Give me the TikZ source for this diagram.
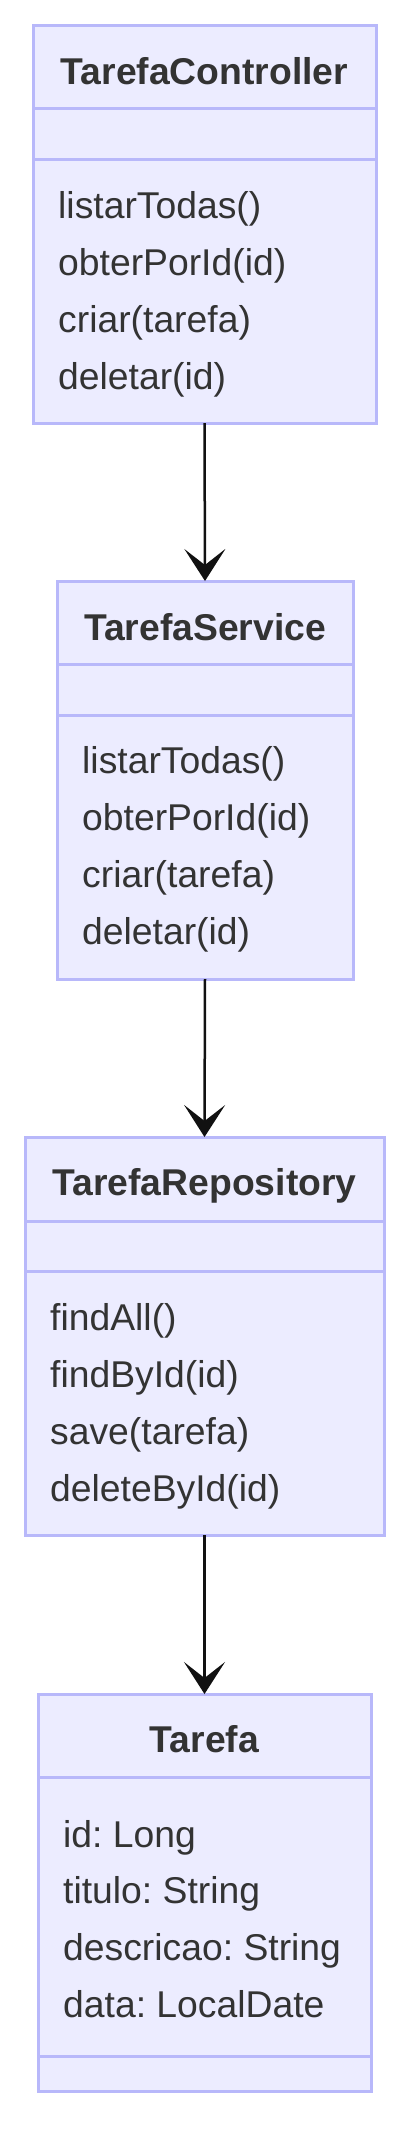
\documentclass[tikz,border=0pt]{standalone}
\usepackage{fontspec}
\setmainfont{Liberation Sans}
\usetikzlibrary{arrows.meta}
\frenchspacing
\definecolor{boxfill}{RGB}{236,236,255}
\definecolor{boxline}{RGB}{184,184,250}
\definecolor{txtcol}{RGB}{51,51,51}
\definecolor{arrcol}{RGB}{17,17,17}
\tikzset{
  umlbox/.style={draw=boxline, fill=boxfill, line width=3pt, inner sep=0pt, outer sep=0pt},
  divider/.style={draw=boxline, line width=3pt},
  member/.style={anchor=base west, inner sep=0pt, text=txtcol, font=\fontsize{37.3}{44}\selectfont},
  title/.style={anchor=base, inner sep=0pt, text=txtcol, font=\fontsize{37.3}{44}\selectfont\bfseries},
  assoc/.style={draw=arrcol, line width=2.5pt, -{Stealth[length=32pt, width=41pt, inset=16pt]}}
}
\begin{document}
\begin{tikzpicture}[x=1pt,y=-1pt]
\useasboundingbox (0,0) rectangle (414,2139);
% TarefaController
\node[umlbox, minimum width=343pt, minimum height=398pt] (ctrl) at (204.5,224) {};
\draw[divider] (33,108) -- (376,108);
\draw[divider] (33,159) -- (376,159);
\node[title] (ctrlT) at (204.5,84) {TarefaController};
\node[member] (c1) at (58,218) {listarTodas()};
\node[member] (c2) at (58,275) {obterPorId(id)};
\node[member] (c3) at (58,332) {criar(tarefa)};
\node[member] (c4) at (58,389) {deletar(id)};
% TarefaService
\node[umlbox, minimum width=296pt, minimum height=398pt] (serv) at (205,780) {};
\draw[divider] (57,664) -- (353,664);
\draw[divider] (57,715) -- (353,715);
\node[title] (servT) at (205,640) {TarefaService};
\node[member] (s1) at (82,773) {listarTodas()};
\node[member] (s2) at (82,830) {obterPorId(id)};
\node[member] (s3) at (82,887) {criar(tarefa)};
\node[member] (s4) at (82,944) {deletar(id)};
% TarefaRepository
\node[umlbox, minimum width=359pt, minimum height=398pt] (repo) at (204.5,1336) {};
\draw[divider] (25,1221) -- (384,1221);
\draw[divider] (25,1271) -- (384,1271);
\node[title] (repoT) at (204.5,1195) {TarefaRepository};
\node[member] (r1) at (50,1330) {findAll()};
\node[member] (r2) at (50,1387) {findById(id)};
\node[member] (r3) at (50,1444) {save(tarefa)};
\node[member] (r4) at (50,1501) {deleteById(id)};
% Tarefa
\node[umlbox, minimum width=333pt, minimum height=397pt] (tar) at (204.5,1892.5) {};
\draw[divider] (38,1777) -- (371,1777);
\draw[divider] (38,2056) -- (371,2056);
\node[title] (tarT) at (204.5,1752) {Tarefa};
\node[member] (t1) at (63,1847) {id: Long};
\node[member] (t2) at (63,1903) {titulo: String};
\node[member] (t3) at (63,1960) {descricao: String};
\node[member] (t4) at (63,2017) {data: LocalDate};
% connectors
\draw[assoc] (ctrl.south) -- (serv.north);
\draw[assoc] (serv.south) -- (repo.north);
\draw[assoc] (repo.south) -- (tar.north);
\end{tikzpicture}
\end{document}
